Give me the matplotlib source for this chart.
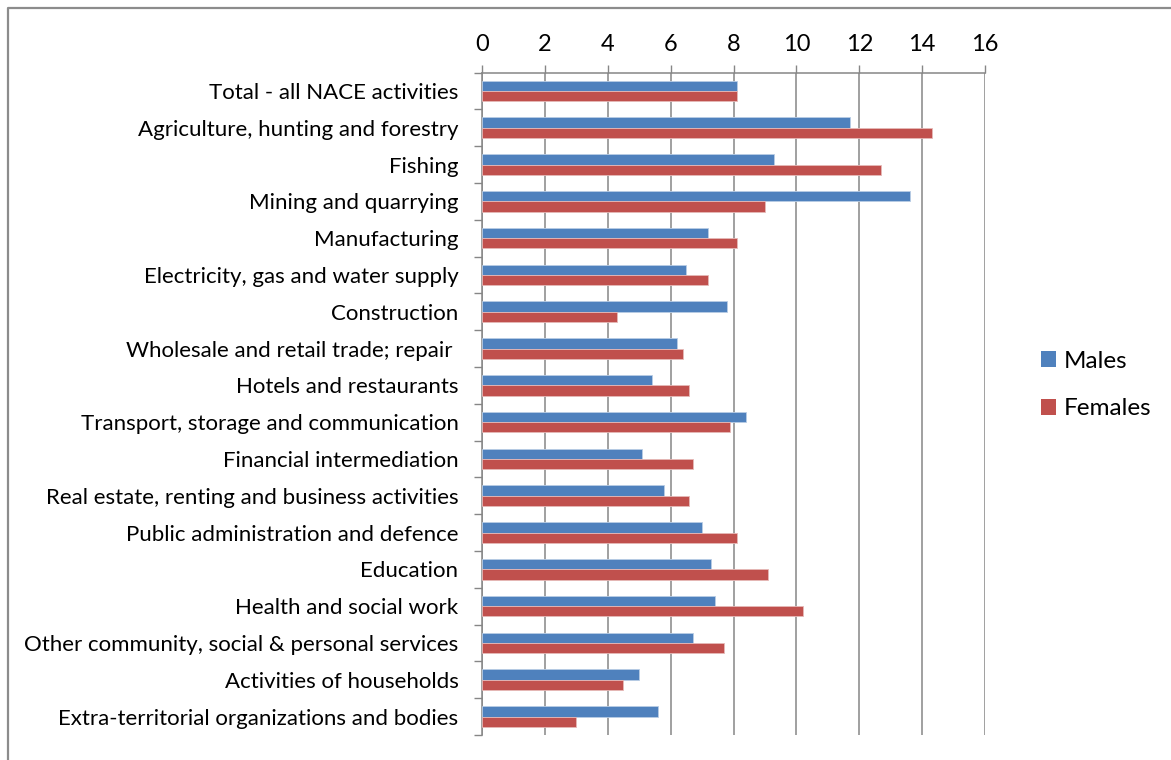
import matplotlib
matplotlib.use("Agg")
import matplotlib.pyplot as plt
import numpy as np
from matplotlib.lines import Line2D
from matplotlib.patches import Patch

categories = [
    "Total - all NACE activities",
    "Agriculture, hunting and forestry",
    "Fishing",
    "Mining and quarrying",
    "Manufacturing",
    "Electricity, gas and water supply",
    "Construction",
    "Wholesale and retail trade; repair ",
    "Hotels and restaurants",
    "Transport, storage and communication",
    "Financial intermediation",
    "Real estate, renting and business activities",
    "Public administration and defence",
    "Education",
    "Health and social work",
    "Other community, social & personal services",
    "Activities of households",
    "Extra-territorial organizations and bodies",
]
males = [8.1, 11.7, 9.3, 13.6, 7.2, 6.5, 7.8, 6.2, 5.4, 8.4, 5.1, 5.8, 7.0, 7.3, 7.4, 6.7, 5.0, 5.6]
females = [8.1, 14.3, 12.7, 9.0, 8.1, 7.2, 4.3, 6.4, 6.6, 7.9, 6.7, 6.6, 8.1, 9.1, 10.2, 7.7, 4.5, 3.0]
xticks = [0, 2, 4, 6, 8, 10, 12, 14, 16]
series_names = ["Males", "Females"]

plt.rcParams['font.family'] = ['Lato', 'DejaVu Sans']
FS = 16
FS_X = 17
FS_LEG = 17.5
BLUE = "#4F81BD"
RED = "#C0504D"
GRID = "#868686"

W, H = 1171, 760
fig = plt.figure(figsize=(W / 100, H / 100), dpi=100)
ax = fig.add_axes([482 / W, 1 - 735 / H, (985 - 482) / W, (735 - 72.5) / H])

y = np.arange(len(categories))
bh = 0.28
ax.barh(y - bh / 2, males, height=bh, color=BLUE, edgecolor="#B9CDE5", linewidth=0.6, zorder=3)
ax.barh(y + bh / 2, females, height=bh, color=RED, edgecolor="#E6B9B8", linewidth=0.6, zorder=3)

ax.set_xlim(0, 16)
ax.set_ylim(len(categories) - 0.5, -0.5)
ax.set_xticks(xticks)
ax.set_xticklabels([str(v) for v in xticks])
ax.xaxis.tick_top()
ax.xaxis.set_label_position('top')
ax.tick_params(axis='x', which='major', direction='out', length=5.5, width=1.0, color=GRID,
               pad=7, labelsize=FS_X, labelcolor='black')
ax.grid(axis='x', color=GRID, linewidth=1.1, zorder=1)

ax.set_yticks(y)
ax.set_yticklabels(categories)
ax.set_yticks(np.arange(len(categories) + 1) - 0.5, minor=True)
ax.tick_params(axis='y', which='major', length=0, pad=17, labelsize=FS, labelcolor='black')
ax.tick_params(axis='y', which='minor', direction='out', length=6, width=1.0, color=GRID)

for s in ['bottom', 'right']:
    ax.spines[s].set_visible(False)
for s in ['top', 'left']:
    ax.spines[s].set_color(GRID)
    ax.spines[s].set_linewidth(1.1)

handles = [Patch(facecolor=BLUE, edgecolor='none'), Patch(facecolor=RED, edgecolor='none')]
fig.legend(handles, series_names, loc='center left', bbox_to_anchor=(1041 / W, 1 - 385 / H),
           frameon=False, fontsize=FS_LEG, handlelength=0.62, handleheight=0.62,
           handletextpad=0.3, labelspacing=1.1, borderpad=0, borderaxespad=0)

# outer chart border (left and top)
fig.add_artist(Line2D([7.5 / W, 7.5 / W, 1.0], [0.0, 1 - 7.5 / H, 1 - 7.5 / H],
                      color="#8C8C8C", linewidth=1.6, transform=fig.transFigure))

fig.savefig("out.png", dpi=100)
